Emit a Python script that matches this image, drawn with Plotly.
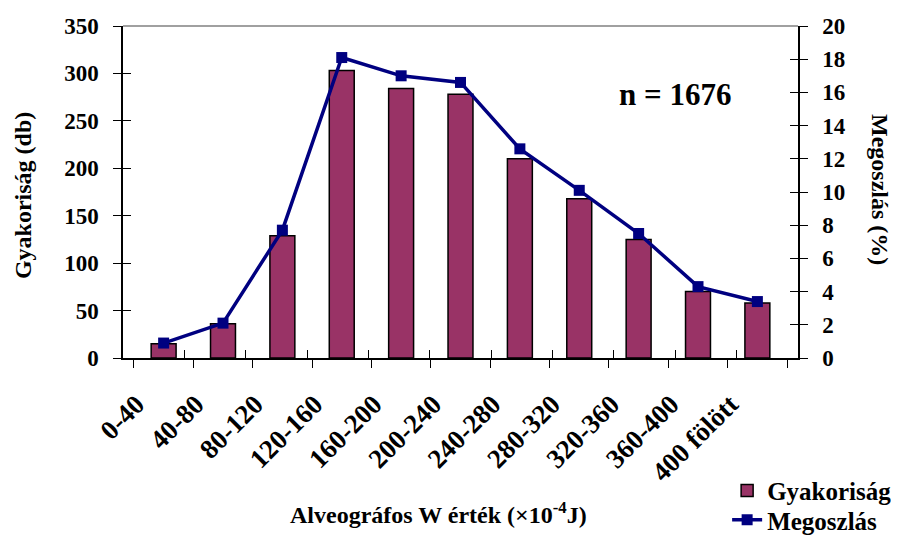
import plotly.graph_objects as go

categories = ["0-40", "40-80", "80-120", "120-160", "160-200", "200-240",
              "240-280", "280-320", "320-360", "360-400", "400 fölött"]
gyakorisag = [15, 36, 129, 303, 284, 278, 210, 168, 125, 70, 58]
megoszlas = [0.9, 2.1, 7.7, 18.1, 17.0, 16.6, 12.6, 10.1, 7.5, 4.3, 3.4]
left_ticks = [0, 50, 100, 150, 200, 250, 300, 350]
right_ticks = [0, 2, 4, 6, 8, 10, 12, 14, 16, 18, 20]

FONT = "Liberation Serif, Times New Roman, serif"
BAR_COLOR = "#993366"
LINE_COLOR = "#000080"

fig = go.Figure()
fig.add_trace(go.Bar(
    x=categories, y=gyakorisag, name="Gyakoriság",
    marker=dict(color=BAR_COLOR, line=dict(color="black", width=1.5)),
    yaxis="y", legend="legend",
))
fig.add_trace(go.Scatter(
    x=categories, y=megoszlas, name="Megoszlás", mode="lines+markers",
    line=dict(color=LINE_COLOR, width=3.5),
    marker=dict(symbol="square", size=11, color=LINE_COLOR),
    yaxis="y2", legend="legend2",
))

tickfont = dict(family=FONT, size=23, color="black", weight="bold")
xtickfont = dict(family=FONT, size=27, color="black", weight="bold")
legfont = dict(family=FONT, size=25, color="black", weight="bold")
n_bound = [i - 0.5 for i in range(len(categories) + 1)]

# page has an 8px body margin, so the figure is drawn 8px in from the corner
fig.update_layout(
    width=891, height=531,
    margin=dict(l=115, r=101, t=18, b=181, autoexpand=False),
    paper_bgcolor="white", plot_bgcolor="white",
    bargap=0.58,
    showlegend=True,
    legend=dict(x=0.895, y=-0.40, xanchor="left", yanchor="middle",
                font=legfont, bgcolor="rgba(0,0,0,0)"),
    legend2=dict(x=0.895, y=-0.488, xanchor="left", yanchor="middle",
                 font=legfont, bgcolor="rgba(0,0,0,0)"),
    xaxis=dict(type="category", categoryorder="array", categoryarray=categories,
               showline=True, linecolor="black", linewidth=1.5,
               ticks="outside", ticklen=8, tickcolor="black", tickwidth=1,
               tickson="boundaries", tickangle=-45, tickfont=xtickfont,
               ticklabelstandoff=18, ticklabelshift=-27,
               showgrid=False, zeroline=False, automargin=False),
    xaxis2=dict(overlaying="x", range=[-0.5, len(categories) - 0.5],
                tickmode="array", tickvals=n_bound, ticks="inside", ticklen=8,
                tickcolor="black", showticklabels=False, showline=False,
                showgrid=False, zeroline=False, side="bottom", anchor="y"),
    yaxis=dict(range=[0, 350], tickmode="array", tickvals=left_ticks,
               showline=True, linecolor="black", linewidth=1.5,
               ticks="outside", ticklen=8, tickcolor="black",
               tickfont=tickfont, ticklabelstandoff=10,
               showgrid=False, zeroline=False, automargin=False),
    yaxis2=dict(range=[0, 20], tickmode="array", tickvals=right_ticks,
                overlaying="y", side="right", anchor="x",
                showline=True, linecolor="black", linewidth=1.5,
                ticks="outside", ticklen=8, tickcolor="black",
                tickfont=tickfont, ticklabelstandoff=10,
                showgrid=False, zeroline=False, automargin=False),
    yaxis3=dict(range=[0, 350], tickmode="array", tickvals=left_ticks,
                overlaying="y", side="left", anchor="x",
                ticks="inside", ticklen=8, tickcolor="black",
                showticklabels=False, showline=False, showgrid=False, zeroline=False),
    yaxis4=dict(range=[0, 20], tickmode="array", tickvals=right_ticks,
                overlaying="y", side="right", anchor="x",
                ticks="inside", ticklen=8, tickcolor="black",
                showticklabels=False, showline=False, showgrid=False, zeroline=False),
    shapes=[dict(type="line", xref="paper", yref="paper", x0=0, x1=1, y0=1, y1=1,
                 line=dict(color="#808080", width=1.5))],
    annotations=[
        dict(text="Gyakoriság (db)", xref="paper", yref="paper", x=-0.147, y=0.49,
             textangle=-90, showarrow=False, xanchor="center", yanchor="middle",
             font=dict(family=FONT, size=24, color="black", weight="bold")),
        dict(text="Megoszlás (%)", xref="paper", yref="paper", x=1.1215, y=0.509,
             textangle=90, showarrow=False, xanchor="center", yanchor="middle",
             font=dict(family=FONT, size=24, color="black", weight="bold")),
        dict(text="Alveográfos W érték (×10<sup>-4</sup>J)", xref="paper", yref="paper",
             x=0.467, y=-0.467, showarrow=False, xanchor="center", yanchor="middle",
             font=dict(family=FONT, size=24, color="black", weight="bold")),
        dict(text="n = 1676", xref="paper", yref="paper", x=0.818, y=0.795,
             showarrow=False, xanchor="center", yanchor="middle",
             font=dict(family=FONT, size=31, color="black", weight="bold")),
    ],
)
# invisible helper traces so the overlay tick axes render
fig.add_trace(go.Scatter(x=[0], y=[0], xaxis="x2", yaxis="y3", mode="markers",
                         marker=dict(opacity=0), showlegend=False, hoverinfo="skip"))
fig.add_trace(go.Scatter(x=[0], y=[0], xaxis="x2", yaxis="y4", mode="markers",
                         marker=dict(opacity=0), showlegend=False, hoverinfo="skip"))

fig.write_html("out.html")
